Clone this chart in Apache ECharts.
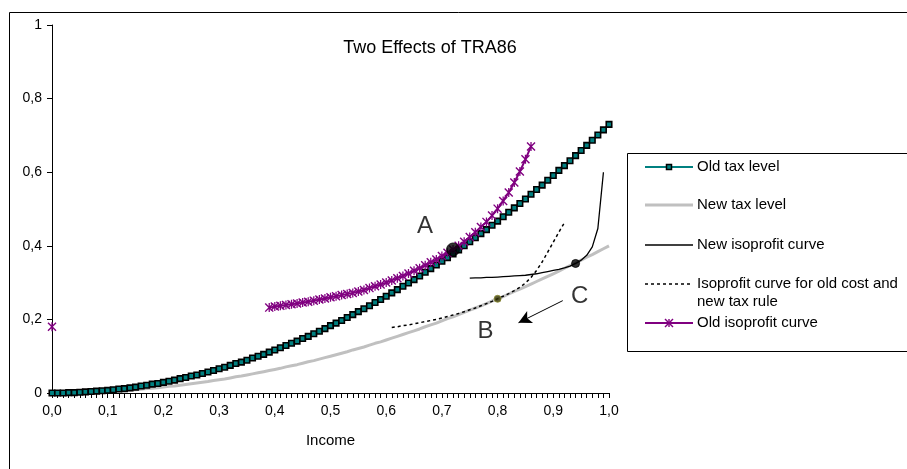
<!DOCTYPE html>
<html><head><meta charset="utf-8">
<script src="https://cdn.jsdelivr.net/npm/echarts@6/dist/echarts.min.js"></script>
<style>html,body{margin:0;padding:0;background:#fff}#c{width:907px;height:469px}</style>
</head><body><div id="c"></div><script>
// ---- data ----
const income = [0,0.01,0.02,0.03,0.04,0.05,0.06,0.07,0.08,0.09,0.10,0.11,0.12,0.13,0.14,0.15,0.16,0.17,0.18,0.19,0.20,0.21,0.22,0.23,0.24,0.25,0.26,0.27,0.28,0.29,0.30,0.31,0.32,0.33,0.34,0.35,0.36,0.37,0.38,0.39,0.40,0.41,0.42,0.43,0.44,0.45,0.46,0.47,0.48,0.49,0.50,0.51,0.52,0.53,0.54,0.55,0.56,0.57,0.58,0.59,0.60,0.61,0.62,0.63,0.64,0.65,0.66,0.67,0.68,0.69,0.70,0.71,0.72,0.73,0.74,0.75,0.76,0.77,0.78,0.79,0.80,0.81,0.82,0.83,0.84,0.85,0.86,0.87,0.88,0.89,0.90,0.91,0.92,0.93,0.94,0.95,0.96,0.97,0.98,0.99,1.00];
const oldTax = [0,0.000,0.000,0.001,0.001,0.002,0.003,0.004,0.005,0.006,0.007,0.009,0.011,0.012,0.014,0.016,0.019,0.021,0.024,0.026,0.029,0.032,0.035,0.039,0.042,0.046,0.049,0.053,0.057,0.061,0.066,0.070,0.075,0.080,0.084,0.089,0.095,0.100,0.105,0.111,0.117,0.123,0.129,0.135,0.141,0.148,0.154,0.161,0.168,0.175,0.183,0.190,0.197,0.205,0.213,0.221,0.229,0.237,0.246,0.254,0.263,0.272,0.281,0.290,0.299,0.308,0.318,0.328,0.338,0.348,0.358,0.368,0.378,0.389,0.400,0.411,0.422,0.433,0.444,0.456,0.467,0.479,0.491,0.503,0.515,0.527,0.540,0.553,0.565,0.578,0.591,0.605,0.618,0.631,0.645,0.659,0.673,0.687,0.701,0.715,0.730];
const newTax = [0,0.000,0.000,0.000,0.001,0.001,0.001,0.002,0.003,0.003,0.004,0.005,0.006,0.007,0.008,0.009,0.010,0.012,0.013,0.014,0.016,0.018,0.019,0.021,0.023,0.025,0.027,0.029,0.031,0.034,0.036,0.038,0.041,0.044,0.046,0.049,0.052,0.055,0.058,0.061,0.064,0.067,0.071,0.074,0.077,0.081,0.085,0.088,0.092,0.096,0.100,0.104,0.108,0.112,0.117,0.121,0.125,0.130,0.135,0.139,0.144,0.149,0.154,0.159,0.164,0.169,0.174,0.180,0.185,0.190,0.196,0.202,0.207,0.213,0.219,0.225,0.231,0.237,0.243,0.250,0.256,0.262,0.269,0.276,0.282,0.289,0.296,0.303,0.310,0.317,0.324,0.331,0.339,0.346,0.353,0.361,0.369,0.376,0.384,0.392,0.400];
const newIsoprofitFrom = 0.75;
const newIsoprofit = [0.312,0.313,0.313,0.314,0.314,0.315,0.316,0.317,0.318,0.319,0.320,0.322,0.324,0.327,0.330,0.333,0.336,0.340,0.345,0.352,0.361,0.374,0.397,0.447,0.600];
const oldCostNewRuleFrom = 0.61;
const oldCostNewRule = [0.178,0.180,0.183,0.185,0.188,0.191,0.194,0.197,0.200,0.204,0.208,0.212,0.216,0.221,0.226,0.231,0.237,0.243,0.249,0.256,0.263,0.270,0.278,0.287,0.299,0.314,0.333,0.356,0.383,0.410,0.437,0.463];
const oldIsoprofitFrom = 0.39;
const oldIsoprofit = [0.232,0.235,0.237,0.239,0.241,0.243,0.246,0.248,0.251,0.254,0.257,0.260,0.263,0.266,0.269,0.272,0.276,0.280,0.285,0.290,0.295,0.300,0.306,0.312,0.318,0.325,0.332,0.339,0.347,0.355,0.363,0.372,0.381,0.390,0.400,0.411,0.424,0.437,0.451,0.465,0.482,0.501,0.522,0.545,0.572,0.602,0.635,0.670];
const oldIsoprofitLone = [0, 0.18];
const pointNames = ['A', 'B', 'C'];
const pointIncome = [0.72, 0.80, 0.94];
const pointValue = [0.39, 0.256, 0.352];
const arrowFrom = [0.917, 0.251];
const arrowTo = [0.8375, 0.191];

// ---- helpers ----
function segment(from, values) {
  const s = income.indexOf(from);
  return values.map((v, i) => [income[s + i], v]);
}
const FONT = "'Liberation Sans', Arial, sans-serif";
const ASTER = 'path://M0,1.1L1.1,0L10,8.9L8.9,10Z M8.9,0L10,1.1L1.1,10L0,8.9Z M4.3,0L5.7,0L5.7,10L4.3,10Z';
const pointStyles = {
  A: {size: 13, color: '#000', border: '#000', offset: [-28, -23]},
  B: {size: 7, color: '#333300', border: '#8a8a30', offset: [-12, 33]},
  C: {size: 8, color: '#000', border: '#000', offset: [4, 33]}
};

const chart = echarts.init(document.getElementById('c'), null, {renderer: 'canvas'});
const legendY = [167, 205, 245, 284, 323];
const lx0 = 645, lx1 = 693, ltx = 697;
const legendText = (t, y) => ({type: 'text', x: ltx, y: y, style: {text: t, font: '15px ' + FONT, fill: '#000', verticalAlign: 'middle', align: 'left'}});
const legendLine = (y, stroke, w, dash) => ({type: 'line', shape: {x1: lx0, y1: y, x2: lx1, y2: y}, style: {stroke: stroke, lineWidth: w, lineDash: dash || null}});
const ax = 669, ay = legendY[4];

chart.setOption({
  animation: false,
  textStyle: {fontFamily: FONT},
  title: {text: 'Two Effects of TRA86', left: 425, top: 34, textAlign: 'center',
    textStyle: {fontSize: 18, fontWeight: 'normal', color: '#000', fontFamily: FONT}},
  grid: {left: 52, right: 298, top: 25, bottom: 76, containLabel: false},
  xAxis: {
    type: 'value', min: 0, max: 1, interval: 0.1,
    axisLine: {show: true, lineStyle: {color: '#000', width: 1}},
    axisTick: {show: true, length: 5, lineStyle: {color: '#000'}},
    minorTick: {show: true, splitNumber: 10, length: 5, lineStyle: {color: '#000'}},
    splitLine: {show: false},
    axisLabel: {color: '#000', fontSize: 14, margin: 11, fontFamily: FONT,
      formatter: v => v.toFixed(1).replace('.', ',')},
    name: 'Income', nameLocation: 'middle', nameGap: 40,
    nameTextStyle: {color: '#000', fontSize: 15, fontFamily: FONT}
  },
  yAxis: {
    type: 'value', min: 0, max: 1, interval: 0.2,
    axisLine: {show: true, lineStyle: {color: '#000', width: 1}},
    axisTick: {show: true, length: 5, lineStyle: {color: '#000'}},
    splitLine: {show: false},
    axisLabel: {color: '#000', fontSize: 14, margin: 10, fontFamily: FONT,
      formatter: v => (v === 0 ? '0' : v === 1 ? '1' : v.toFixed(1).replace('.', ','))}
  },
  series: [
    {name: 'New tax level', type: 'line', z: 2, showSymbol: false, emphasis: {disabled: true},
      data: segment(0, newTax), lineStyle: {color: '#c0c0c0', width: 3}},
    {name: 'Old tax level', type: 'line', z: 4, symbol: 'rect', symbolSize: 5.5, showAllSymbol: true,
      emphasis: {disabled: true}, data: segment(0, oldTax),
      lineStyle: {color: '#008080', width: 2},
      itemStyle: {color: '#008080', borderColor: '#000', borderWidth: 1.6}},
    {name: 'New isoprofit curve', type: 'line', z: 3, showSymbol: false, emphasis: {disabled: true},
      data: segment(newIsoprofitFrom, newIsoprofit), lineStyle: {color: '#000', width: 1.3}},
    {name: 'Isoprofit curve for old cost and new tax rule', type: 'line', z: 3, showSymbol: false,
      emphasis: {disabled: true}, data: segment(oldCostNewRuleFrom, oldCostNewRule),
      lineStyle: {color: '#000', width: 1.5, type: [3, 3]}},
    {name: 'Old isoprofit curve', type: 'line', z: 5, symbol: ASTER, symbolSize: 9, showAllSymbol: true,
      emphasis: {disabled: true},
      data: [oldIsoprofitLone, [0.2, '-']].concat(segment(oldIsoprofitFrom, oldIsoprofit)),
      lineStyle: {color: '#800080', width: 2}, itemStyle: {color: '#800080'}},
    {name: 'Points', type: 'scatter', z: 10, emphasis: {disabled: true}, silent: true,
      data: pointNames.map((n, i) => {
        const st = pointStyles[n];
        return {name: n, value: [pointIncome[i], pointValue[i]], symbolSize: st.size,
          itemStyle: {color: st.color, borderColor: st.border, borderWidth: 1},
          label: {show: true, formatter: n, position: 'inside', offset: st.offset,
            fontSize: 24, color: '#000', fontFamily: FONT}};
      }),
      markLine: {silent: true, symbol: ['none', 'arrow'], symbolSize: [10, 13],
        label: {show: false}, lineStyle: {color: '#000', width: 1, type: 'solid'},
        emphasis: {disabled: true},
        data: [[{coord: arrowFrom}, {coord: arrowTo}]]}}
  ],
  graphic: [
    {type: 'rect', shape: {x: 9.5, y: 12.5, width: 1000, height: 1000}, style: {fill: 'none', stroke: '#000', lineWidth: 1}, silent: true},
    {type: 'rect', shape: {x: 627.5, y: 153.5, width: 400, height: 198}, style: {fill: '#fff', stroke: '#000', lineWidth: 1}, silent: true},
    legendLine(legendY[0], '#008080', 2),
    {type: 'rect', shape: {x: 666.5, y: legendY[0] - 2.5, width: 5, height: 5}, style: {fill: '#008080', stroke: '#000', lineWidth: 1.5}},
    legendText('Old tax level', legendY[0]),
    legendLine(legendY[1], '#c0c0c0', 3),
    legendText('New tax level', legendY[1]),
    legendLine(legendY[2], '#000', 1.3),
    legendText('New isoprofit curve', legendY[2]),
    legendLine(legendY[3], '#000', 1.5, [3, 3]),
    legendText('Isoprofit curve for old cost and', legendY[3]),
    legendText('new tax rule', legendY[3] + 18),
    legendLine(legendY[4], '#800080', 2),
    {type: 'line', shape: {x1: ax - 4, y1: ay - 4, x2: ax + 4, y2: ay + 4}, style: {stroke: '#800080', lineWidth: 1.4}},
    {type: 'line', shape: {x1: ax + 4, y1: ay - 4, x2: ax - 4, y2: ay + 4}, style: {stroke: '#800080', lineWidth: 1.4}},
    {type: 'line', shape: {x1: ax, y1: ay - 4, x2: ax, y2: ay + 4}, style: {stroke: '#800080', lineWidth: 1.4}},
    legendText('Old isoprofit curve', legendY[4])
  ]
});
</script></body></html>
